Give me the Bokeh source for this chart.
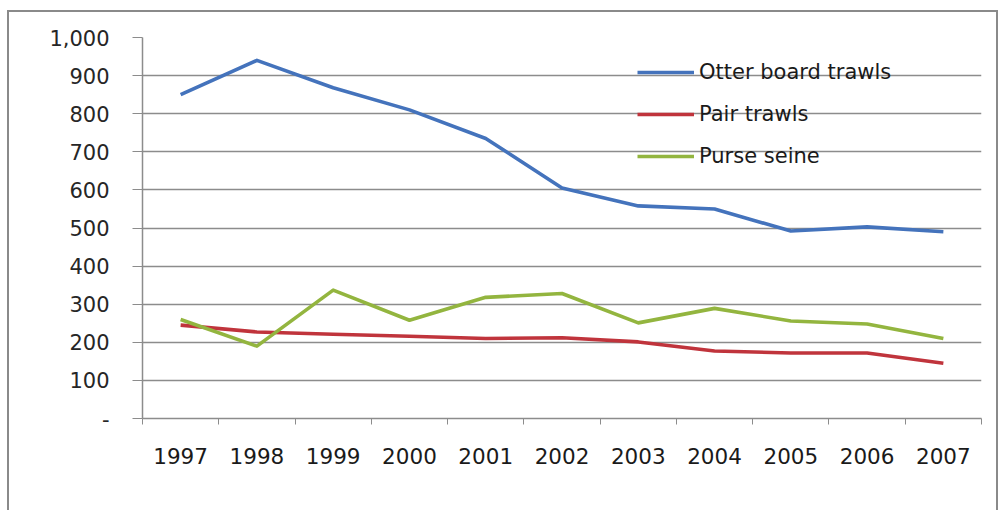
from bokeh.plotting import figure
from bokeh.models import FixedTicker, NumeralTickFormatter, Legend, LegendItem
from bokeh.embed import file_html
from bokeh.resources import INLINE

# Number of vessels by fishing gear, 1997-2007
years = ["1997", "1998", "1999", "2000", "2001", "2002", "2003", "2004", "2005", "2006", "2007"]
otter_board_trawls = [850, 940, 868, 810, 735, 605, 558, 550, 492, 503, 490]
pair_trawls = [245, 227, 221, 216, 210, 212, 201, 177, 172, 172, 145]
purse_seine = [260, 190, 337, 258, 318, 328, 251, 289, 256, 248, 210]
y_ticks = list(range(0, 1001, 100))

x = list(range(len(years)))

p = figure(
    width=991, height=500,
    x_range=(-0.5, len(years) - 0.5), y_range=(0, 1000),
    output_backend="svg", toolbar_location=None,
    min_border_left=133, min_border_right=19, min_border_top=25, min_border_bottom=94,
    background_fill_color="white", border_fill_color="white",
)
p.margin = (10, 4, 0, 7)
p.styles = {
    "border-top": "2px solid #8a8a8a",
    "border-left": "2px solid #8a8a8a",
    "border-right": "2px solid #8a8a8a",
}
p.outline_line_color = None

grid_col = "#8c8c8c"
font = "DejaVu Sans"

# x axis: labels at category centres, tick marks between categories
p.xaxis.ticker = FixedTicker(ticks=x, minor_ticks=[i - 0.5 for i in range(len(years) + 1)])
p.xaxis.major_label_overrides = {i: yr for i, yr in enumerate(years)}
p.xaxis.major_tick_out = 0
p.xaxis.major_tick_in = 0
p.xaxis.minor_tick_out = 6
p.xaxis.minor_tick_in = 0
p.xaxis.minor_tick_line_color = grid_col
p.xaxis.axis_line_color = grid_col
p.xaxis.axis_line_width = 1.5
p.xaxis.major_label_text_font = font
p.xaxis.major_label_text_font_size = "21.5px"
p.xaxis.major_label_text_color = "#1a1a1a"
p.xaxis.major_label_standoff = 23
p.xgrid.visible = False

# y axis
p.yaxis.ticker = FixedTicker(ticks=y_ticks)
p.yaxis.formatter = NumeralTickFormatter(format="0,0")
p.yaxis.major_label_overrides = {0: "-"}
p.yaxis.major_tick_out = 10
p.yaxis.major_tick_in = 0
p.yaxis.minor_tick_line_color = None
p.yaxis.major_tick_line_color = grid_col
p.yaxis.axis_line_color = grid_col
p.yaxis.axis_line_width = 1.5
p.yaxis.major_label_text_font = font
p.yaxis.major_label_text_font_size = "21px"
p.yaxis.major_label_text_color = "#262626"
p.yaxis.major_label_standoff = 23
p.ygrid.ticker = FixedTicker(ticks=y_ticks)
p.ygrid.grid_line_color = grid_col
p.ygrid.grid_line_width = 1.5

lw = 3.6
r1 = p.line(x, otter_board_trawls, line_color="#4473BC", line_width=lw, line_join="round")
r2 = p.line(x, pair_trawls, line_color="#C0343C", line_width=lw, line_join="round")
r3 = p.line(x, purse_seine, line_color="#93B53F", line_width=lw, line_join="round")

legend = Legend(
    items=[
        LegendItem(label="Otter board trawls", renderers=[r1]),
        LegendItem(label="Pair trawls", renderers=[r2]),
        LegendItem(label="Purse seine", renderers=[r3]),
    ],
    location=(495, 250),
)
legend.background_fill_alpha = 0
legend.border_line_alpha = 0
legend.padding = 0
legend.margin = 0
legend.spacing = 18
legend.glyph_width = 57
legend.glyph_height = 20
legend.label_height = 20
legend.label_standoff = 5
legend.label_text_font = font
legend.label_text_font_size = "21px"
legend.label_text_color = "#1a1a1a"
p.add_layout(legend)

open("out.html", "w").write(file_html(p, INLINE))
